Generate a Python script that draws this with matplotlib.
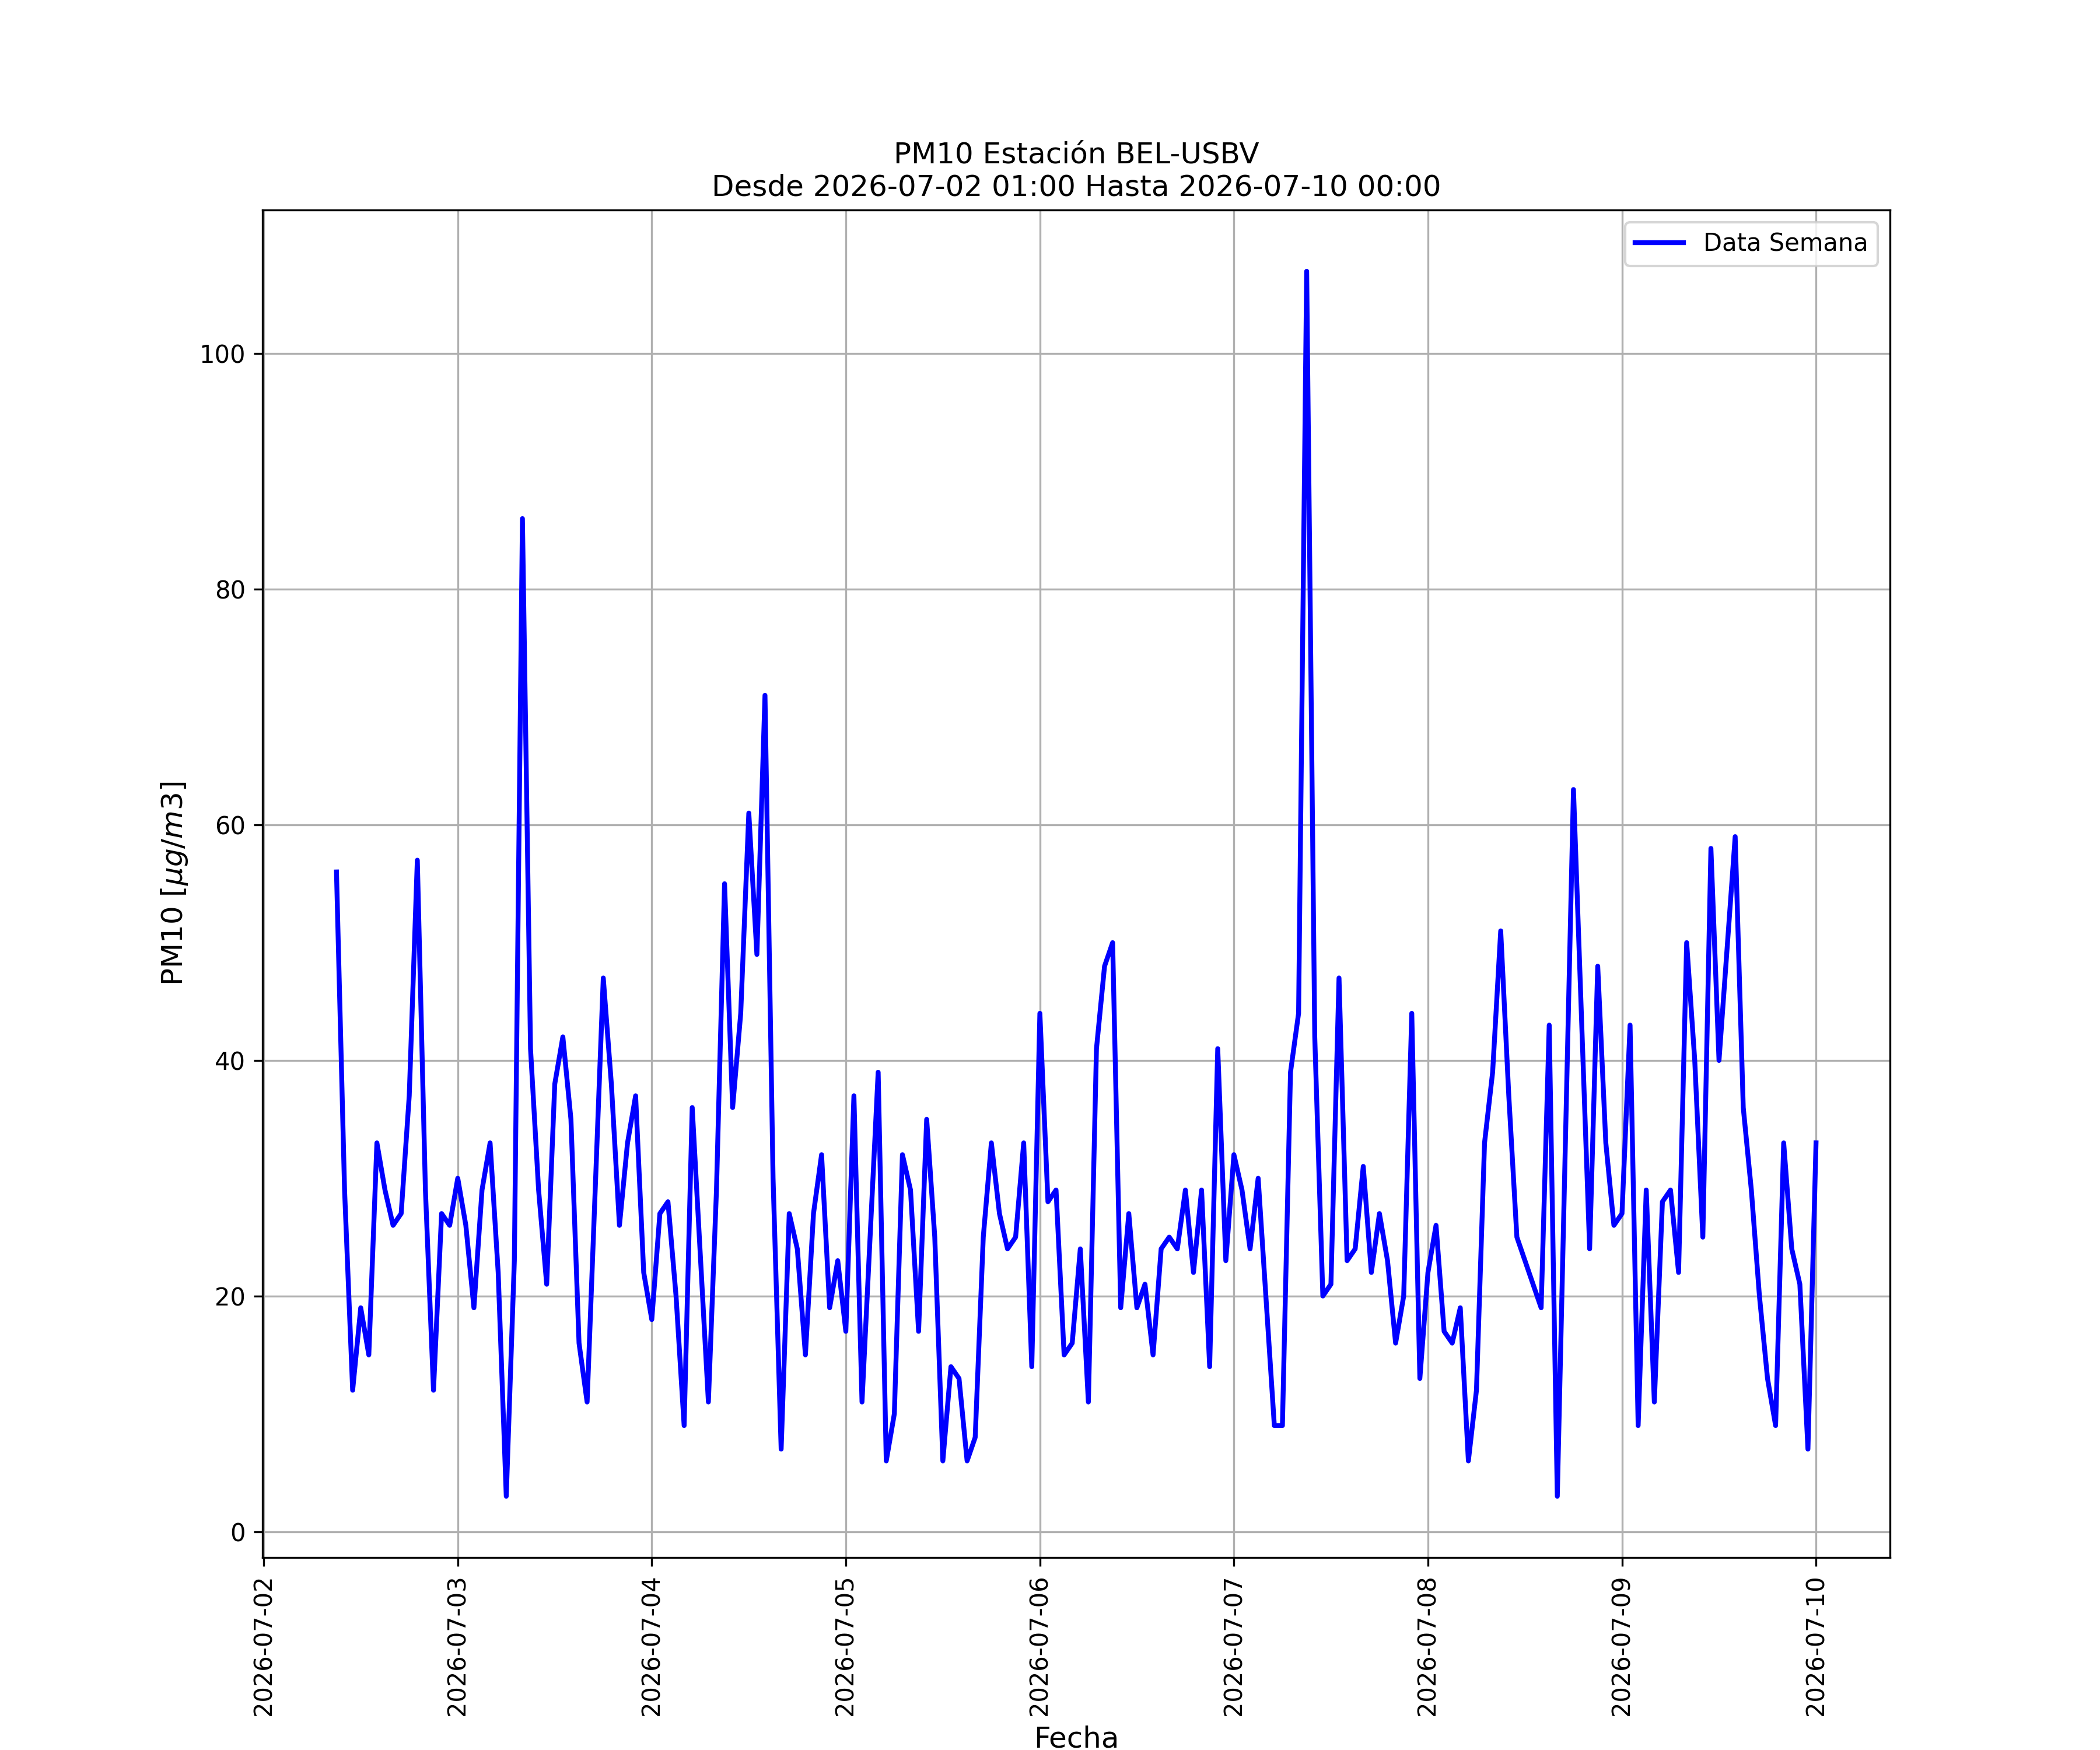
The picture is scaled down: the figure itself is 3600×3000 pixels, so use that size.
import numpy as np
import pandas as pd
import matplotlib
matplotlib.use("Agg")
import matplotlib.pyplot as plt
import matplotlib.dates as mdates

# valores horarios de PM10 por dia (None = hora sin dato)
dia_0702 = [None] * 9 + [56, 29, 12, 19, 15, 33, 29, 26, 27, 37, 57, 29, 12, 27, 26]
dia_0703 = [30, 26, 19, 29, 33, 22, 3, 23, 86, 41, 29, 21, 38, 42, 35, 16, 11, None, 47, 38, 26, 33, 37, 22]
dia_0704 = [18, 27, 28, 20, 9, 36, None, 11, 29, 55, 36, 44, 61, 49, 71, 30, 7, 27, 24, 15, 27, 32, 19, 23]
dia_0705 = [17, 37, 11, None, 39, 6, 10, 32, 29, 17, 35, 25, 6, 14, 13, 6, 8, 25, 33, 27, 24, 25, 33, 14]
dia_0706 = [44, 28, 29, 15, 16, 24, 11, 41, 48, 50, 19, 27, 19, 21, 15, 24, 25, 24, 29, 22, 29, 14, 41, 23]
dia_0707 = [32, 29, 24, 30, None, 9, 9, 39, 44, 107, 42, 20, 21, 47, 23, 24, 31, 22, 27, 23, 16, 20, 44, 13]
dia_0708 = [22, 26, 17, 16, 19, 6, 12, 33, 39, 51, 37, 25, None, None, 19, 43, 3, None, 63, None, 24, 48, 33, 26]
dia_0709 = [27, 43, 9, 29, 11, 28, 29, 22, 50, 40, 25, 58, 40, None, 59, 36, 29, 20, 13, 9, 33, 24, 21, 7]
dia_0710 = [33]

dias = [dia_0702, dia_0703, dia_0704, dia_0705, dia_0706, dia_0707, dia_0708, dia_0709, dia_0710]
valores = [v for d in dias for v in d]
fechas = pd.date_range("2026-07-02 00:00", periods=len(valores), freq="h")

serie = pd.Series(valores, index=fechas, dtype=float).dropna()

fig, ax = plt.subplots(figsize=(12, 10))
ax.plot(serie.index, serie.values, color="blue", linewidth=2, label="Data Semana")

ax.set_title("PM10 Estación BEL-USBV\nDesde 2026-07-02 01:00 Hasta 2026-07-10 00:00", fontsize=12)
ax.set_xlabel("Fecha", fontsize=12)
ax.set_ylabel(r"PM10 [$\mu g/m3$]", fontsize=12)
ax.xaxis.set_major_locator(mdates.DayLocator())
ax.xaxis.set_major_formatter(mdates.DateFormatter("%Y-%m-%d"))
plt.setp(ax.get_xticklabels(), rotation=90)
ax.grid(True)
ax.legend(loc="upper right")

fig.savefig("out.png", dpi=300)
